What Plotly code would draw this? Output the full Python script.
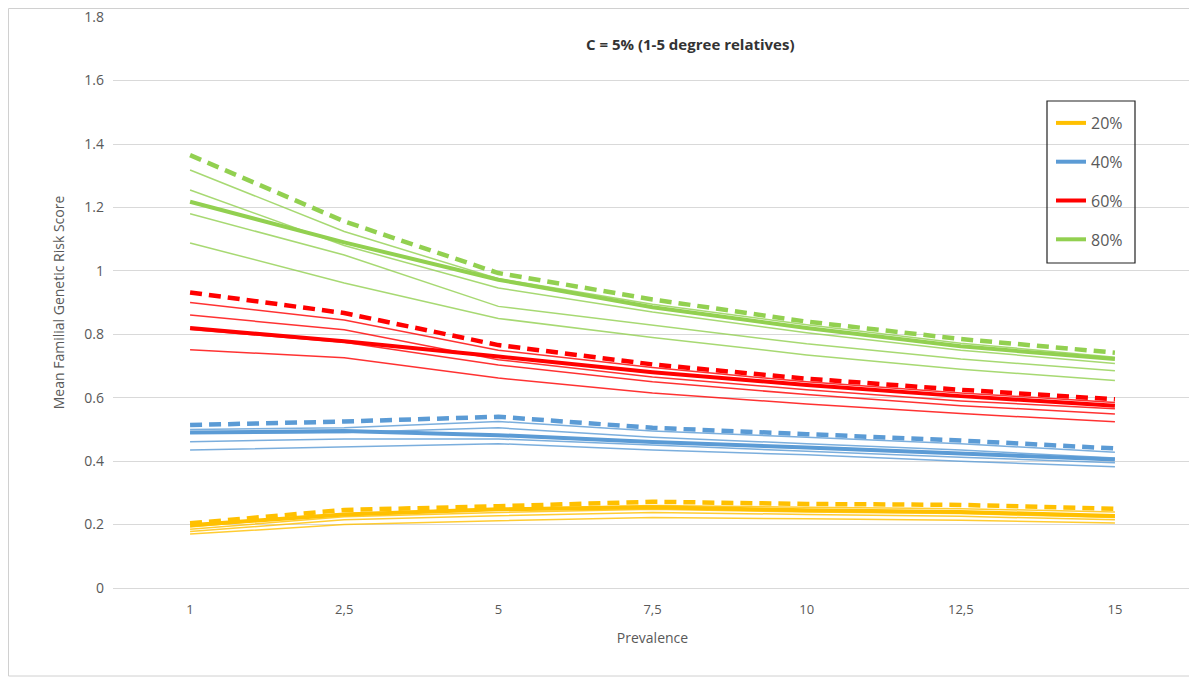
import plotly.graph_objects as go

prevalence = ["1", "2,5", "5", "7,5", "10", "12,5", "15"]
y_ticks = [0, 0.2, 0.4, 0.6, 0.8, 1.0, 1.2, 1.4, 1.6, 1.8]
y_tick_text = ["0", "0.2", "0.4", "0.6", "0.8", "1", "1.2", "1.4", "1.6", "1.8"]

# 20% group (yellow)
y20_dash = [0.204, 0.246, 0.258, 0.272, 0.265, 0.262, 0.250]
y20_main = [0.198, 0.232, 0.248, 0.255, 0.245, 0.240, 0.227]
y20_t1 = [0.192, 0.235, 0.250, 0.260, 0.255, 0.250, 0.240]
y20_t2 = [0.185, 0.225, 0.238, 0.248, 0.240, 0.235, 0.222]
y20_t3 = [0.178, 0.215, 0.228, 0.238, 0.232, 0.226, 0.215]
y20_t4 = [0.170, 0.200, 0.212, 0.222, 0.218, 0.214, 0.205]

# 40% group (blue)
y40_dash = [0.514, 0.525, 0.540, 0.505, 0.485, 0.465, 0.440]
y40_main = [0.490, 0.495, 0.482, 0.460, 0.443, 0.425, 0.405]
y40_t1 = [0.500, 0.505, 0.525, 0.495, 0.475, 0.455, 0.428]
y40_t2 = [0.488, 0.490, 0.505, 0.475, 0.455, 0.435, 0.410]
y40_t3 = [0.461, 0.470, 0.470, 0.450, 0.432, 0.412, 0.395]
y40_t4 = [0.435, 0.445, 0.455, 0.435, 0.420, 0.400, 0.382]

# 60% group (red)
y60_dash = [0.932, 0.867, 0.766, 0.705, 0.660, 0.625, 0.595]
y60_main = [0.820, 0.778, 0.730, 0.680, 0.640, 0.605, 0.575]
y60_t1 = [0.900, 0.845, 0.750, 0.695, 0.650, 0.615, 0.585]
y60_t2 = [0.861, 0.814, 0.720, 0.665, 0.625, 0.590, 0.565]
y60_t3 = [0.815, 0.775, 0.703, 0.650, 0.610, 0.575, 0.549]
y60_t4 = [0.751, 0.726, 0.662, 0.615, 0.580, 0.550, 0.524]

# 80% group (green)
y80_dash = [1.365, 1.156, 0.993, 0.910, 0.840, 0.785, 0.742]
y80_main = [1.218, 1.090, 0.972, 0.885, 0.820, 0.762, 0.722]
y80_t1 = [1.318, 1.124, 0.975, 0.895, 0.830, 0.772, 0.728]
y80_t2 = [1.255, 1.080, 0.946, 0.870, 0.805, 0.750, 0.708]
y80_t3 = [1.180, 1.050, 0.888, 0.830, 0.770, 0.722, 0.685]
y80_t4 = [1.088, 0.962, 0.850, 0.790, 0.735, 0.690, 0.654]

groups = [
    ("20%", "#FFC000", y20_dash, y20_main, [y20_t1, y20_t2, y20_t3, y20_t4]),
    ("40%", "#5B9BD5", y40_dash, y40_main, [y40_t1, y40_t2, y40_t3, y40_t4]),
    ("60%", "#FF0000", y60_dash, y60_main, [y60_t1, y60_t2, y60_t3, y60_t4]),
    ("80%", "#92D050", y80_dash, y80_main, [y80_t1, y80_t2, y80_t3, y80_t4]),
]

fig = go.Figure()
for name, color, ydash, ymain, thins in groups:
    for yt in thins:
        fig.add_trace(go.Scatter(x=prevalence, y=yt, mode="lines",
                                 line=dict(color=color, width=1.5), opacity=0.8,
                                 showlegend=False, hoverinfo="skip"))
    fig.add_trace(go.Scatter(x=prevalence, y=ydash, mode="lines",
                             line=dict(color=color, width=4.5, dash="12px,7px"),
                             showlegend=False))
    fig.add_trace(go.Scatter(x=prevalence, y=ymain, mode="lines", name=name,
                             legendgroup=name,
                             line=dict(color=color, width=4)))

# The page body adds an 8px offset; the figure is sized to fill the rest.
W, H = 1189, 671
L, R, T, B = 105, 5, 9, 91
pw, ph = W - L - R, H - T - B


def px(xf):
    return (xf - L) / pw


def py(yf):
    return (H - B - yf) / ph


font_family = "Open Sans, Noto Sans, sans-serif"
fig.update_layout(
    width=W, height=H,
    margin=dict(l=L, r=R, t=T, b=B, autoexpand=False),
    paper_bgcolor="white", plot_bgcolor="white",
    font=dict(family=font_family, color="#595959", size=13),
    showlegend=True,
    legend=dict(x=px(1043), y=py(98), xanchor="left", yanchor="top",
                borderwidth=0, bgcolor="rgba(0,0,0,0)",
                font=dict(size=16, color="#595959"),
                tracegroupgap=15, itemwidth=30),
    xaxis=dict(type="category", range=[-0.5, 6.5], showgrid=False,
               showline=False, zeroline=False, ticks="",
               tickfont=dict(size=13, color="#595959"),
               ticklabelstandoff=12,
               title=dict(text="Prevalence", font=dict(size=14, color="#595959"), standoff=16)),
    yaxis=dict(range=[0, 1.8005], tickmode="array", tickvals=y_ticks, ticktext=y_tick_text,
               showgrid=True, gridcolor="#D9D9D9", gridwidth=1.3,
               zeroline=True, zerolinecolor="#D9D9D9", zerolinewidth=1.3,
               showline=False, ticks="", ticklabeloverflow="allow",
               tickfont=dict(size=14, color="#595959"),
               ticklabelstandoff=8,
               title=dict(text="Mean Familial Genetic Risk Score",
                          font=dict(size=14, color="#595959"), standoff=16)),
)

fig.add_annotation(text="<b>C = 5% (1-5 degree relatives)</b>",
                   xref="paper", yref="paper", x=px(682), y=py(36),
                   xanchor="center", yanchor="middle",
                   showarrow=False, font=dict(size=15, color="#333333", family=font_family))

# legend frame
fig.add_shape(type="rect", xref="paper", yref="paper",
              x0=px(1039), x1=px(1127), y0=py(255), y1=py(93),
              line=dict(color="#222222", width=1.2), fillcolor="rgba(0,0,0,0)",
              layer="above")

# outer frame
fig.add_shape(type="rect", xref="paper", yref="paper",
              x0=px(0.5), x1=px(1187.5), y0=py(668), y1=py(0.5),
              line=dict(color="#D0D0D0", width=1), layer="below")

fig.write_html("out.html")
